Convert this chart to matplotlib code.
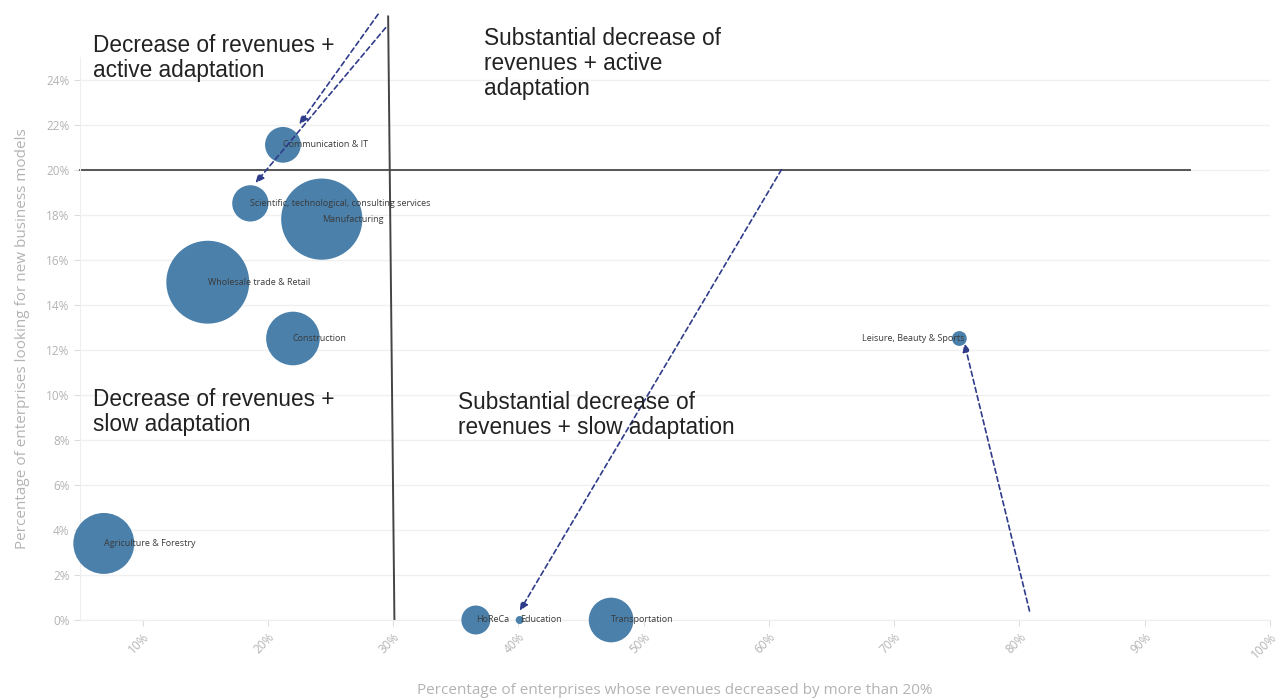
import matplotlib.pyplot as plt
from matplotlib.ticker import FuncFormatter

# Sectors: share with revenue drop > 20% (x), share looking for new business models (y)
sectors = ['Communication & IT', 'Scientific, technological, consulting services', 'Manufacturing',
           'Wholesale trade & Retail', 'Construction', 'Agriculture & Forestry', 'HoReCa',
           'Education', 'Transportation', 'Leisure, Beauty & Sports']
revenue_drop = [21.2, 18.6, 24.3, 15.2, 22.0, 6.9, 36.6, 40.1, 47.4, 75.2]
new_models = [21.1, 18.5, 17.8, 15.0, 12.5, 3.4, 0.0, 0.0, 0.0, 12.5]
bubble_size = [320, 330, 1650, 1720, 720, 930, 210, 16, 500, 55]
label_side = ['left'] * 9 + ['right']

x_ticks = [10, 20, 30, 40, 50, 60, 70, 80, 90, 100]
y_ticks = [0, 2, 4, 6, 8, 10, 12, 14, 16, 18, 20, 22, 24]

# dashed arrows drawn over the chart: (tail, head) in data units
arrows = [((28.8, 26.9), (22.5, 22.0)),
          ((29.4, 26.3), (19.0, 19.4)),
          ((61.0, 20.0), (40.1, 0.4)),
          ((80.8, 0.4), (75.6, 12.3))]

quadrants = [("Decrease of revenues +\nactive adaptation", 93, 34),
             ("Substantial decrease of\nrevenues + active\nadaptation", 484, 27),
             ("Decrease of revenues +\nslow adaptation", 93, 388),
             ("Substantial decrease of\nrevenues + slow adaptation", 458, 391)]

W, H = 1277, 699
fig = plt.figure(figsize=(W / 100, H / 100), dpi=100)
ax = fig.add_axes([80 / W, 79 / H, (1270 - 80) / W, (642 - 79) / H])

blue = '#4b80ab'
gray_txt = '#b3b3b3'

ax.scatter(revenue_drop, new_models, s=[b * 2.07 for b in bubble_size], color=blue,
           edgecolor='none', zorder=3, clip_on=False)

for name, x, y, side in zip(sectors, revenue_drop, new_models, label_side):
    if side == 'left':
        ax.annotate(name, (x, y), xytext=(0, 0), textcoords='offset points', ha='left',
                    va='center', fontsize=6.5, color='#3a3a3a', family='Open Sans', zorder=4)
    else:
        ax.annotate(name, (x, y), xytext=(4, 0), textcoords='offset points', ha='right',
                    va='center', fontsize=6.5, color='#3a3a3a', family='Open Sans', zorder=4)

# quadrant dividers
ax.plot([5, 93.6], [20, 20], color='#555555', lw=1.4, zorder=2, clip_on=False)
ax.plot([29.6, 30.1], [26.8, 0], color='#444444', lw=1.4, zorder=2, clip_on=False)

for tail, head in arrows:
    ax.annotate('', xy=head, xytext=tail, annotation_clip=False, zorder=5,
                arrowprops=dict(arrowstyle='-|>,head_length=0.5,head_width=0.22',
                                color='#2f3c8a', lw=1.2, linestyle=(0, (3, 2)),
                                shrinkA=0, shrinkB=0))

for txt, px, py in quadrants:
    fig.text(px / W, 1 - py / H, txt, ha='left', va='top', fontsize=16.3,
             family='Liberation Sans', color='#222222', linespacing=1.1)

ax.set_xlim(5, 100)
ax.set_ylim(0, 25)
ax.set_xticks(x_ticks)
ax.set_yticks(y_ticks)
ax.xaxis.set_major_formatter(FuncFormatter(lambda v, p: f'{v:.0f}%'))
ax.yaxis.set_major_formatter(FuncFormatter(lambda v, p: f'{v:.0f}%'))
plt.setp(ax.get_xticklabels(), rotation=45, ha='right', rotation_mode='anchor')
ax.tick_params(axis='both', colors='#dddddd', labelcolor=gray_txt, labelsize=8.5, length=4)
for lab in ax.get_xticklabels() + ax.get_yticklabels():
    lab.set_family('Open Sans')

ax.grid(axis='y', color='#f0f0f0', lw=1)
ax.set_axisbelow(True)
for side in ['top', 'right']:
    ax.spines[side].set_visible(False)
ax.spines['left'].set_color('#eeeeee')
ax.spines['bottom'].set_color('#eeeeee')

ax.set_xlabel('Percentage of enterprises whose revenues decreased by more than 20%',
              fontsize=11, color=gray_txt, family='Open Sans', labelpad=16)
ax.set_ylabel('Percentage of enterprises looking for new business models',
              fontsize=11, color=gray_txt, family='Open Sans', labelpad=12)

fig.savefig('out.png', dpi=100)
